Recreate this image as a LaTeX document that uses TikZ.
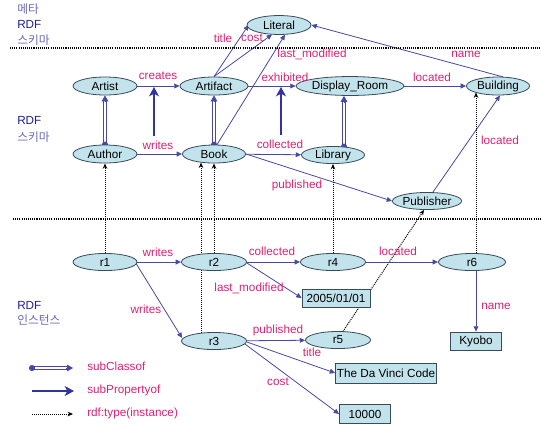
\documentclass[tikz,border=0pt]{standalone}
\usepackage{fontspec}
\setmainfont{Liberation Sans}
\newfontfamily\krfont{Noto Sans CJK KR}
\usetikzlibrary{shapes.geometric,arrows.meta,calc,backgrounds}
\definecolor{efill}{RGB}{194,227,235}
\definecolor{eborder}{RGB}{55,75,90}
\definecolor{ecol}{RGB}{72,72,168}
\definecolor{pcol}{RGB}{50,50,160}
\definecolor{lab}{RGB}{228,30,110}
\definecolor{rdfc}{RGB}{30,30,150}
\definecolor{korc}{RGB}{105,105,180}
\newcommand\mysubcl[2]{%
  \draw[subline, shorten >=4pt] (#1) -- (#2);
  \fill[ecol] (#1) circle[radius=2.3pt];
  \draw[draw=ecol, line width=0.6pt, -{Triangle[length=4.5pt,width=5pt]}] ($(#2)!5pt!(#1)$) -- (#2);%
}
\begin{document}
\begin{tikzpicture}[x=0.75pt,y=-0.75pt,
  every node/.style={font=\fontsize{8.8}{10}\selectfont},
  ell/.style={ellipse, draw=eborder, fill=efill, line width=0.6pt, inner sep=0pt},
  box/.style={rectangle, draw=eborder, fill=efill, line width=0.6pt, inner sep=1pt},
  lbl/.style={text=lab, inner sep=0pt},
  rel/.style={draw=ecol, line width=0.6pt, -{Triangle[length=4pt,width=3.6pt]}},
  inst/.style={draw=black, line width=0.75pt, dash pattern=on 0.75pt off 0.75pt, -{Stealth[length=4pt,width=3.4pt]}},
  subline/.style={draw=ecol, line width=0.55pt, double=white, double distance=1.3pt},
  prop/.style={draw=pcol, line width=2.2pt, -{Stealth[length=7pt,width=7.5pt,inset=2pt]}},
  sepline/.style={draw=black, line width=0.8pt, dash pattern=on 0.8pt off 0.8pt},
  side/.style={inner sep=0pt, anchor=west},
  kr/.style={side, text=korc, font=\krfont\fontsize{8.8}{10}\selectfont},
  rdf/.style={side, text=rdfc}]
\useasboundingbox (0,0) rectangle (541,426);

% side labels
\node[kr]  (meta)  at (17,9)   {메타};
\node[rdf] (rdf1)  at (17,24)  {RDF};
\node[kr]  (sch1)  at (17,40)  {스키마};
\node[rdf] (rdf2)  at (17,120) {RDF};
\node[kr]  (sch2)  at (17,137) {스키마};
\node[rdf] (rdf3)  at (17,305) {RDF};
\node[kr]  (inst3) at (17,320) {인스턴스};

% separators
\coordinate (s1a) at (10,48);  \coordinate (s1b) at (541,48);
\coordinate (s2a) at (13,219); \coordinate (s2b) at (541,219);
\draw[sepline] (s1a) -- (s1b);
\draw[sepline] (s2a) -- (s2b);

% schema nodes
\node[ell, minimum width=48pt, minimum height=14.2pt] (Literal) at (279,25) {Literal};
\node[ell, minimum width=48pt, minimum height=13.5pt] (Artist) at (105,86) {Artist};
\node[ell, minimum width=51pt, minimum height=13.5pt] (Artifact) at (214,86) {Artifact};
\node[ell, minimum width=72.8pt, minimum height=14.2pt] (DisplayRoom) at (350,86) {Display\_Room};
\node[ell, minimum width=47.3pt, minimum height=13.5pt] (Building) at (498,86) {Building};
\node[ell, minimum width=48pt, minimum height=13.5pt] (Author) at (105,154) {Author};
\node[ell, minimum width=47.3pt, minimum height=13.5pt] (Book) at (214,154) {Book};
\node[ell, minimum width=47.3pt, minimum height=12.8pt] (Library) at (333,155) {Library};
\node[ell, minimum width=47.3pt, minimum height=12.8pt] (Publisher) at (427,201) {Publisher};

% instance nodes
\node[ell, minimum width=48pt, minimum height=12.8pt] (r1) at (105,262) {r1};
\node[ell, minimum width=48.8pt, minimum height=12.8pt] (r2) at (214,262) {r2};
\node[ell, minimum width=48.8pt, minimum height=12.8pt] (r4) at (333,262) {r4};
\node[ell, minimum width=50.3pt, minimum height=12.8pt] (r6) at (472,262) {r6};
\node[ell, minimum width=48.8pt, minimum height=12.8pt] (r3) at (214,341) {r3};
\node[ell, minimum width=48.8pt, minimum height=12.8pt] (r5) at (338,340) {r5};
\node[box, minimum width=51pt, minimum height=13.5pt] (date) at (336,298) {2005/01/01};
\node[box, minimum width=38.3pt, minimum height=13.5pt] (Kyobo) at (476,341) {Kyobo};
\node[box, minimum width=75.8pt, minimum height=15pt] (davinci) at (386,373) {The Da Vinci Code};
\node[box, minimum width=38.3pt, minimum height=14.2pt] (tenk) at (365,414) {10000};

% edge labels
\node[lbl] (lcreates) at (158,76) {creates};
\node[lbl] (lwrites) at (158,145) {writes};
\node[lbl] (lexhib) at (285,77) {exhibited};
\node[lbl] (lloc1) at (432,77) {located};
\node[lbl] (lname1) at (466,54) {name};
\node[lbl] (llm1) at (312,54) {last\_modified};
\node[lbl] (ltitle1) at (223,38) {title};
\node[lbl] (lcost1) at (252,38) {cost};
\node[lbl] (lcoll1) at (280,144) {collected};
\node[lbl] (lpub1) at (297,185) {published};
\node[lbl] (lloc2) at (500,140) {located};
\node[lbl] (lwr2) at (158,252) {writes};
\node[lbl] (lcoll2) at (272,251) {collected};
\node[lbl] (lloc3) at (398,251) {located};
\node[lbl] (lwr3) at (146,309) {writes};
\node[lbl] (llm2) at (249,288) {last\_modified};
\node[lbl] (lname2) at (496,306) {name};
\node[lbl] (lpub2) at (278,330) {published};
\node[lbl] (ltitle2) at (312,352) {title};
\node[lbl] (lcost2) at (278,382) {cost};

% legend
\coordinate (l1a) at (32,368); \coordinate (l1b) at (73,368);
\coordinate (l2a) at (32,391); \coordinate (l2b) at (74,391);
\coordinate (l3a) at (32,414); \coordinate (l3b) at (73,414);
\node[lbl, anchor=west] (lg1) at (87,366) {subClassof};
\node[lbl, anchor=west] (lg2) at (87,390) {subPropertyof};
\node[lbl, anchor=west] (lg3) at (87,413) {rdf:type(instance)};
\mysubcl{l1a}{l1b}
\draw[prop] (l2a) -- (l2b);
\draw[inst] (l3a) -- (l3b);

% subproperty free ends
\coordinate (wrp) at (154,136); \coordinate (crp) at (154,87);
\coordinate (clp) at (281,135); \coordinate (exp) at (281,87);

\begin{scope}[on background layer]
  % schema properties
  \draw[rel] (Artist) -- (Artifact);
  \draw[rel] (Author) -- (Book);
  \draw[rel] (Artifact) -- (DisplayRoom);
  \draw[rel] (Book) -- (Library);
  \draw[rel] (DisplayRoom) -- (Building);
  \draw[rel] (Artifact.north) -- ($(Literal.west)+(2,0)$);
  \draw[rel] (Artifact.north) -- ($(Literal.south)+(-7,-0.3)$);
  \draw[rel] ($(Book.north)+(3,0)$) -- ($(Literal.south)+(6,-0.2)$);
  \draw[rel] ($(Building.north)+(5,0.3)$) -- (Literal.east);
  \draw[rel] (Book.east) -- (Publisher.west);
  \draw[rel] ($(Publisher.north)+(6,0)$) -- ($(Building.south)+(2,0)$);
  % subclass
  \mysubcl{Author.north}{Artist.south}
  \mysubcl{Book.north}{Artifact.south}
  \coordinate (libtop) at ($(Library.north)+(11,0.5)$);
  \coordinate (drbot) at (libtop |- DisplayRoom.south);
  \mysubcl{libtop}{drbot}
  % subproperty
  \draw[prop] (wrp) -- (crp);
  \draw[prop] (clp) -- (exp);
  % instance-of
  \draw[inst] (r1) -- (Author);
  \draw[inst] (r2) -- (Book);
  \coordinate (r3b) at ($(r3.north)+(-13,0.8)$);
  \coordinate (bk3) at ($(Book.south)+(-13,-0.8)$);
  \draw[inst] (r3b) -- (bk3);
  \draw[inst] (r4) -- (Library);
  \coordinate (r6t) at (r6.north -| Kyobo.north);
  \coordinate (bdb) at ($(Building.center)+(-22,6.5)$);
  \draw[inst] (r6t) -- (bdb);
  \draw[inst] ($(r5.north)+(5,0.3)$) -- ($(Publisher.south)+(-3,0)$);
  % instance properties
  \draw[rel] (r1) -- (r2);
  \draw[rel] ($(r1.east)+(-1,2)$) -- ($(r3.west)+(1,-3)$);
  \draw[rel] (r2) -- (r4);
  \draw[rel] ($(r2.east)+(0,1)$) -- (date.west);
  \draw[rel] (r4) -- (r6);
  \draw[rel] (r6.south -| Kyobo.north) -- (Kyobo.north);
  \draw[rel] (r3) -- (r5);
  \draw[rel] ($(r3.east)+(0,1)$) -- (davinci.west);
  \draw[rel] ($(r3.east)+(-2,3)$) -- (tenk.west);
\end{scope}
\end{tikzpicture}
\end{document}
